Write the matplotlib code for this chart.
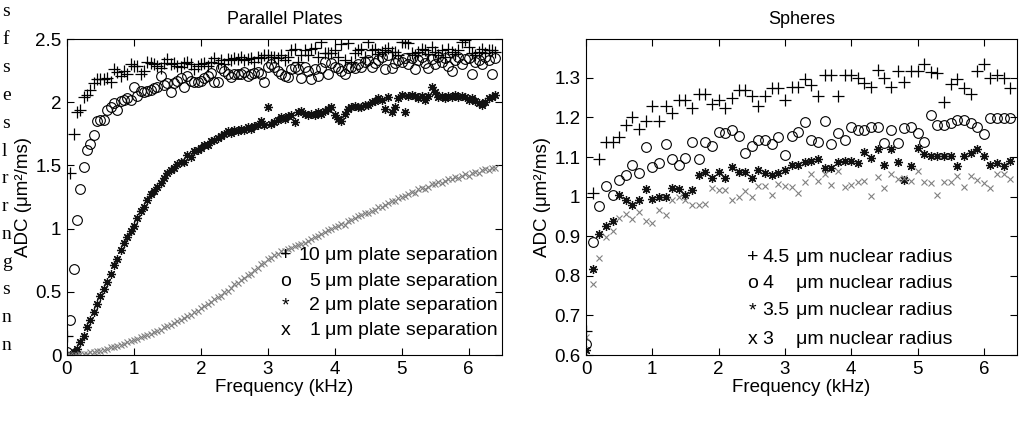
import matplotlib
matplotlib.use('Agg')
import matplotlib.pyplot as plt

plt.rcParams['font.family'] = ['Liberation Sans', 'DejaVu Sans']

# Parallel plates, sampled every 0.05 kHz
plates_freq = [
    0.00, 0.05, 0.10, 0.15, 0.20, 0.25, 0.30, 0.35, 0.40, 0.45,
    0.50, 0.55, 0.60, 0.65, 0.70, 0.75, 0.80, 0.85, 0.90, 0.95,
    1.00, 1.05, 1.10, 1.15, 1.20, 1.25, 1.30, 1.35, 1.40, 1.45,
    1.50, 1.55, 1.60, 1.65, 1.70, 1.75, 1.80, 1.85, 1.90, 1.95,
    2.00, 2.05, 2.10, 2.15, 2.20, 2.25, 2.30, 2.35, 2.40, 2.45,
    2.50, 2.55, 2.60, 2.65, 2.70, 2.75, 2.80, 2.85, 2.90, 2.95,
    3.00, 3.05, 3.10, 3.15, 3.20, 3.25, 3.30, 3.35, 3.40, 3.45,
    3.50, 3.55, 3.60, 3.65, 3.70, 3.75, 3.80, 3.85, 3.90, 3.95,
    4.00, 4.05, 4.10, 4.15, 4.20, 4.25, 4.30, 4.35, 4.40, 4.45,
    4.50, 4.55, 4.60, 4.65, 4.70, 4.75, 4.80, 4.85, 4.90, 4.95,
    5.00, 5.05, 5.10, 5.15, 5.20, 5.25, 5.30, 5.35, 5.40, 5.45,
    5.50, 5.55, 5.60, 5.65, 5.70, 5.75, 5.80, 5.85, 5.90, 5.95,
    6.00, 6.05, 6.10, 6.15, 6.20, 6.25, 6.30, 6.35, 6.40]

plates_10um = [
    0.15, 1.44, 1.75, 1.92, 1.94, 2.04, 2.06, 2.10, 2.15, 2.18,
    2.18, 2.18, 2.19, 2.16, 2.26, 2.24, 2.21, 2.25, 2.22, 2.30,
    2.29, 2.29, 2.22, 2.25, 2.32, 2.31, 2.30, 2.29, 2.27, 2.31,
    2.34, 2.30, 2.31, 2.29, 2.28, 2.31, 2.32, 2.30, 2.26, 2.29,
    2.30, 2.31, 2.29, 2.32, 2.35, 2.31, 2.33, 2.30, 2.34, 2.33,
    2.35, 2.34, 2.36, 2.33, 2.34, 2.35, 2.32, 2.36, 2.35, 2.37,
    2.37, 2.36, 2.36, 2.35, 2.37, 2.33, 2.36, 2.41, 2.42, 2.32,
    2.37, 2.41, 2.37, 2.42, 2.43, 2.36, 2.48, 2.39, 2.39, 2.39,
    2.41, 2.36, 2.46, 2.33, 2.47, 2.32, 2.39, 2.41, 2.42, 2.36,
    2.48, 2.41, 2.42, 2.38, 2.40, 2.41, 2.43, 2.40, 2.40, 2.37,
    2.48, 2.48, 2.47, 2.39, 2.37, 2.40, 2.42, 2.41, 2.38, 2.44,
    2.40, 2.37, 2.41, 2.36, 2.42, 2.40, 2.38, 2.41, 2.48, 2.49,
    2.44, 2.39, 2.37, 2.40, 2.42, 2.39, 2.41, 2.41, 2.40]

plates_5um = [
    0.02, 0.28, 0.68, 1.07, 1.31, 1.49, 1.62, 1.67, 1.74, 1.85,
    1.86, 1.86, 1.94, 1.96, 1.99, 1.94, 2.01, 2.02, 2.03, 2.02,
    2.12, 2.05, 2.09, 2.08, 2.09, 2.10, 2.11, 2.12, 2.21, 2.14,
    2.15, 2.08, 2.15, 2.17, 2.19, 2.12, 2.21, 2.17, 2.16, 2.16,
    2.17, 2.19, 2.21, 2.23, 2.16, 2.16, 2.27, 2.25, 2.22, 2.20,
    2.22, 2.22, 2.22, 2.24, 2.21, 2.22, 2.23, 2.24, 2.22, 2.16,
    2.28, 2.30, 2.28, 2.25, 2.22, 2.21, 2.20, 2.26, 2.28, 2.26,
    2.19, 2.28, 2.25, 2.18, 2.26, 2.21, 2.27, 2.32, 2.22, 2.31,
    2.28, 2.27, 2.25, 2.22, 2.27, 2.28, 2.27, 2.30, 2.28, 2.32,
    2.33, 2.28, 2.31, 2.33, 2.36, 2.26, 2.37, 2.27, 2.31, 2.33,
    2.32, 2.35, 2.30, 2.35, 2.26, 2.33, 2.36, 2.31, 2.27, 2.34,
    2.30, 2.36, 2.32, 2.35, 2.29, 2.25, 2.33, 2.36, 2.30, 2.34,
    2.35, 2.22, 2.32, 2.33, 2.30, 2.36, 2.33, 2.22, 2.35]

plates_2um = [
    0.00, 0.00, 0.02, 0.05, 0.10, 0.15, 0.22, 0.28, 0.34, 0.40,
    0.47, 0.52, 0.58, 0.64, 0.71, 0.76, 0.83, 0.89, 0.93, 0.98,
    1.02, 1.08, 1.14, 1.17, 1.23, 1.27, 1.30, 1.33, 1.36, 1.40,
    1.44, 1.46, 1.48, 1.51, 1.53, 1.53, 1.58, 1.57, 1.61, 1.62,
    1.64, 1.66, 1.66, 1.69, 1.70, 1.72, 1.73, 1.75, 1.77, 1.76,
    1.78, 1.77, 1.79, 1.78, 1.80, 1.79, 1.81, 1.82, 1.85, 1.82,
    1.96, 1.83, 1.84, 1.86, 1.88, 1.87, 1.89, 1.90, 1.84, 1.92,
    1.93, 1.91, 1.90, 1.91, 1.90, 1.92, 1.91, 1.93, 1.95, 1.96,
    1.90, 1.87, 1.85, 1.91, 1.95, 1.96, 1.97, 1.96, 1.96, 1.98,
    1.98, 2.00, 2.01, 2.03, 2.02, 1.95, 2.04, 1.92, 1.96, 2.03,
    2.06, 1.92, 2.05, 2.06, 2.05, 2.03, 2.05, 2.02, 2.05, 2.12,
    2.08, 2.04, 2.05, 2.03, 2.05, 2.04, 2.06, 2.04, 2.05, 2.04,
    2.02, 2.03, 2.01, 1.99, 1.98, 2.00, 2.03, 2.04, 2.06]

plates_1um = [
    0.00, 0.00, 0.00, 0.00, 0.01, 0.01, 0.01, 0.02, 0.02, 0.03,
    0.03, 0.04, 0.05, 0.06, 0.06, 0.07, 0.08, 0.09, 0.10, 0.11,
    0.12, 0.13, 0.14, 0.15, 0.16, 0.17, 0.18, 0.19, 0.20, 0.22,
    0.23, 0.24, 0.25, 0.27, 0.28, 0.29, 0.31, 0.32, 0.34, 0.35,
    0.37, 0.39, 0.40, 0.42, 0.44, 0.46, 0.47, 0.50, 0.51, 0.53,
    0.56, 0.57, 0.59, 0.61, 0.63, 0.64, 0.67, 0.69, 0.72, 0.73,
    0.76, 0.77, 0.79, 0.80, 0.82, 0.82, 0.84, 0.85, 0.86, 0.87,
    0.88, 0.89, 0.90, 0.92, 0.93, 0.94, 0.96, 0.97, 0.99, 1.00,
    1.01, 1.02, 1.04, 1.03, 1.06, 1.07, 1.08, 1.10, 1.11, 1.12,
    1.12, 1.14, 1.15, 1.17, 1.17, 1.19, 1.20, 1.22, 1.22, 1.24,
    1.25, 1.26, 1.27, 1.29, 1.28, 1.31, 1.32, 1.31, 1.33, 1.35,
    1.35, 1.37, 1.36, 1.38, 1.39, 1.39, 1.41, 1.40, 1.42, 1.43,
    1.42, 1.44, 1.45, 1.44, 1.46, 1.47, 1.46, 1.48, 1.48]

# Spheres, sampled every 0.1 kHz
spheres_freq = [
    0.0, 0.1, 0.2, 0.3, 0.4, 0.5, 0.6, 0.7, 0.8, 0.9,
    1.0, 1.1, 1.2, 1.3, 1.4, 1.5, 1.6, 1.7, 1.8, 1.9,
    2.0, 2.1, 2.2, 2.3, 2.4, 2.5, 2.6, 2.7, 2.8, 2.9,
    3.0, 3.1, 3.2, 3.3, 3.4, 3.5, 3.6, 3.7, 3.8, 3.9,
    4.0, 4.1, 4.2, 4.3, 4.4, 4.5, 4.6, 4.7, 4.8, 4.9,
    5.0, 5.1, 5.2, 5.3, 5.4, 5.5, 5.6, 5.7, 5.8, 5.9,
    6.0, 6.1, 6.2, 6.3, 6.4]

spheres_4p5um = [
    0.660, 1.010, 1.095, 1.138, 1.138, 1.150, 1.180, 1.200, 1.170, 1.190,
    1.230, 1.190, 1.230, 1.210, 1.245, 1.245, 1.225, 1.260, 1.260, 1.235,
    1.245, 1.225, 1.250, 1.270, 1.270, 1.255, 1.230, 1.255, 1.275, 1.275,
    1.245, 1.277, 1.277, 1.298, 1.283, 1.255, 1.306, 1.306, 1.255, 1.306,
    1.306, 1.300, 1.288, 1.278, 1.320, 1.300, 1.278, 1.316, 1.290, 1.317,
    1.317, 1.335, 1.314, 1.312, 1.240, 1.284, 1.296, 1.273, 1.260, 1.316,
    1.335, 1.300, 1.306, 1.300, 1.273]

spheres_4um = [
    0.628, 0.886, 0.977, 1.027, 1.004, 1.042, 1.055, 1.080, 1.060, 1.125,
    1.075, 1.085, 1.132, 1.095, 1.079, 1.097, 1.137, 1.095, 1.138, 1.129,
    1.164, 1.161, 1.167, 1.154, 1.111, 1.129, 1.144, 1.143, 1.134, 1.151,
    1.104, 1.152, 1.162, 1.188, 1.142, 1.138, 1.190, 1.132, 1.160, 1.144,
    1.177, 1.167, 1.167, 1.175, 1.177, 1.136, 1.167, 1.136, 1.173, 1.175,
    1.160, 1.138, 1.205, 1.180, 1.180, 1.185, 1.193, 1.193, 1.185, 1.177,
    1.158, 1.198, 1.198, 1.198, 1.198]

spheres_3p5um = [
    0.612, 0.816, 0.906, 0.926, 0.938, 1.005, 0.992, 0.978, 0.992, 1.020,
    0.995, 1.000, 1.000, 1.022, 1.020, 1.005, 1.016, 1.055, 1.062, 1.047,
    1.063, 1.047, 1.074, 1.062, 1.063, 1.046, 1.067, 1.059, 1.055, 1.059,
    1.067, 1.080, 1.080, 1.088, 1.091, 1.095, 1.072, 1.072, 1.088, 1.091,
    1.089, 1.084, 1.112, 1.097, 1.120, 1.081, 1.120, 1.088, 1.042, 1.078,
    1.123, 1.107, 1.102, 1.102, 1.102, 1.103, 1.078, 1.103, 1.109, 1.119,
    1.103, 1.081, 1.084, 1.078, 1.089]

spheres_3um = [
    0.645, 0.779, 0.845, 0.898, 0.912, 0.945, 0.956, 0.943, 0.961, 0.939,
    0.934, 0.966, 0.953, 0.992, 0.998, 0.992, 0.980, 0.978, 0.982, 1.021,
    1.017, 1.017, 0.992, 1.000, 1.013, 0.998, 1.027, 1.027, 1.005, 1.033,
    1.027, 1.025, 1.010, 1.037, 1.056, 1.040, 1.056, 1.030, 1.064, 1.023,
    1.030, 1.037, 1.040, 1.002, 1.050, 1.021, 1.056, 1.045, 1.047, 1.040,
    1.064, 1.037, 1.035, 1.005, 1.037, 1.037, 1.052, 1.025, 1.052, 1.042,
    1.034, 1.021, 1.056, 1.056, 1.045]

plates_labels = ['10', '5', '2', '1']
spheres_labels = ['4.5', '4', '3.5', '3']
symbols = ['+', 'o', '*', 'x']

# page text cut off at the left edge of the figure
margin_letters = ['s', 'f', 's', 'e', 's', 'l', 'r', 'r', 'n', 'g', 's', 'n', 'n']

W, H = 1027, 424
fig = plt.figure(figsize=(W / 100, H / 100), dpi=100)
FS = 13.5
LFS = 14


def px_axes(x0, y0, x1, y1):
    return fig.add_axes([x0 / W, 1 - y1 / H, (x1 - x0) / W, (y1 - y0) / H])


def draw_series(ax, f, ys):
    ax.plot(f, ys[0], ls='none', marker='+', ms=8, mew=0.9, color='k')
    ax.plot(f, ys[1], ls='none', marker='o', ms=7, mew=0.8, mfc='none', mec='k')
    ax.plot(f, ys[2], ls='none', marker=(8, 2, 0), ms=6.5, mew=0.9, color='#111111')
    ax.plot(f, ys[3], ls='none', marker='x', ms=4.5, mew=0.8, color='#808080')


def style(ax):
    ax.tick_params(direction='in', top=True, right=True, length=5, width=0.8,
                   labelsize=FS, pad=4)
    for s in ax.spines.values():
        s.set_linewidth(0.8)
    ax.set_xlim(0, 6.5)
    ax.set_xticks(range(7))
    ax.set_xlabel('Frequency (kHz)', fontsize=FS, labelpad=1)
    ax.set_ylabel('ADC (\u03bcm\u00b2/ms)', fontsize=FS, labelpad=2)


ax1 = px_axes(67, 39, 502, 355)
draw_series(ax1, plates_freq, [plates_10um, plates_5um, plates_2um, plates_1um])
style(ax1)
ax1.set_ylim(0, 2.5)
ax1.set_yticks([0, 0.5, 1, 1.5, 2, 2.5])
ax1.set_yticklabels(['0', '0.5', '1', '1.5', '2', '2.5'])
ax1.set_title('Parallel Plates', fontsize=13, pad=11)

leg_y1 = [0.785, 0.585, 0.39, 0.19]
for sym, lab, y in zip(symbols, plates_labels, leg_y1):
    ax1.text(3.27, y, sym, fontsize=LFS, ha='center', va='center')
    ax1.text(3.78, y, lab, fontsize=LFS, ha='right', va='center')
    ax1.text(3.85, y, '\u03bcm plate separation', fontsize=LFS, ha='left', va='center')

ax2 = px_axes(586, 39, 1017, 355)
draw_series(ax2, spheres_freq, [spheres_4p5um, spheres_4um, spheres_3p5um, spheres_3um])
style(ax2)
ax2.set_ylim(0.6, 1.398)
ax2.set_yticks([0.6, 0.7, 0.8, 0.9, 1.0, 1.1, 1.2, 1.3])
ax2.set_yticklabels(['0.6', '0.7', '0.8', '0.9', '1', '1.1', '1.2', '1.3'])
ax2.set_title('Spheres', fontsize=13, pad=11)

leg_y2 = [0.846, 0.78, 0.712, 0.638]
for sym, lab, y in zip(symbols, spheres_labels, leg_y2):
    ax2.text(2.51, y, sym, fontsize=LFS, ha='center', va='center')
    ax2.text(2.66, y, lab, fontsize=LFS, ha='left', va='center')
    ax2.text(3.16, y, '\u03bcm nuclear radius', fontsize=LFS, ha='left', va='center')

for i, ch in enumerate(margin_letters):
    fig.text(2 / W, 1 - (12 + 27.8 * i) / H, ch, fontsize=14,
             family='Liberation Serif', ha='left', va='center')

fig.savefig('out.png', dpi=100)
